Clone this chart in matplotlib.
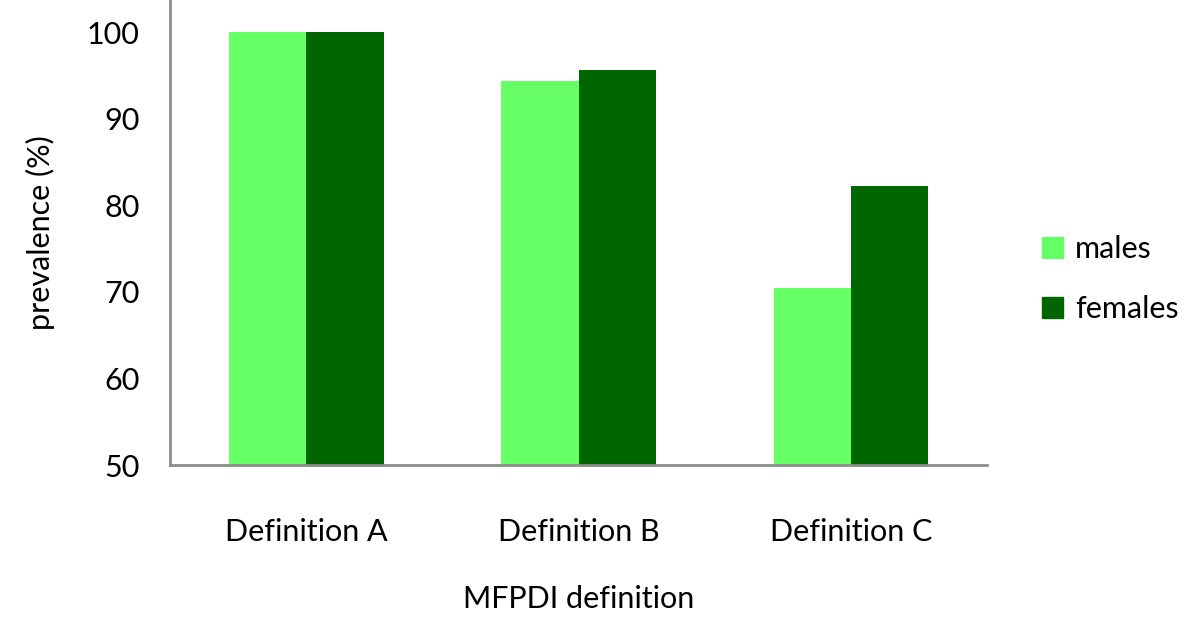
import numpy as np
import matplotlib.pyplot as plt
from matplotlib.patches import Patch

plt.rcParams['font.family'] = ['Lato', 'DejaVu Sans']

categories = ["Definition A", "Definition B", "Definition C"]
males = [100.0, 94.3, 70.4]
females = [100.0, 95.6, 82.2]

c_m = "#66ff66"
c_f = "#006600"

fig = plt.figure(figsize=(12, 6.37), dpi=100)
ax = fig.add_axes([0.1417, 0.27, 0.6808, 0.73])

x = np.arange(len(categories))
w = 0.284
ax.bar(x - w / 2, males, w, color=c_m, label="males")
ax.bar(x + w / 2, females, w, color=c_f, label="females")

ax.set_xlim(-0.5, 2.5)
ax.set_ylim(50, 103.7)
ax.set_yticks(range(50, 101, 10))
ax.set_xticks(x)
ax.set_xticklabels(categories)
ax.tick_params(axis='both', length=0, labelsize=22)
ax.tick_params(axis='x', pad=38)
ax.tick_params(axis='y', pad=22)

for s in ['top', 'right']:
    ax.spines[s].set_visible(False)
for s in ['left', 'bottom']:
    ax.spines[s].set_color('#8c8c8c')
    ax.spines[s].set_linewidth(2)

ax.set_ylabel("prevalence (%)", fontsize=22, labelpad=23)
ax.set_xlabel("MFPDI definition", fontsize=22, labelpad=28)

handles = [Patch(color=c_m, label="males"), Patch(color=c_f, label="females")]
fig.legend(handles=handles, loc='center left', bbox_to_anchor=(0.845, 0.562),
           frameon=False, fontsize=22, handlelength=0.7, handleheight=0.7,
           handletextpad=0.4, labelspacing=1.05)

fig.savefig("out.png", dpi=100)
